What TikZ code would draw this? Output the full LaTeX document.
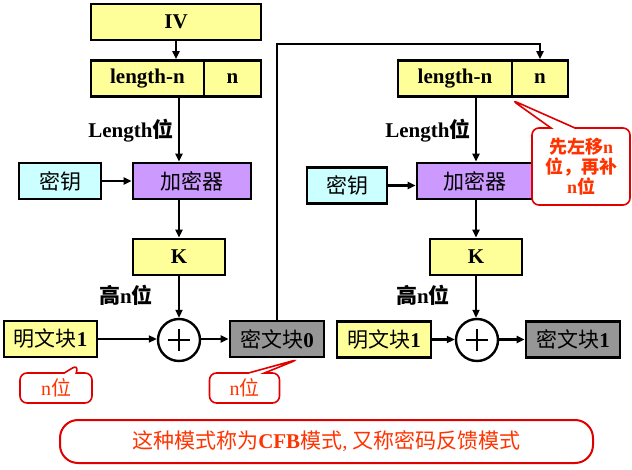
\documentclass[tikz,border=0pt]{standalone}
\usepackage{fontspec}
\setmainfont{Liberation Serif}
\newfontfamily\cjk{Noto Sans CJK SC}
\usetikzlibrary{arrows.meta,shapes.callouts,calc}
\definecolor{yel}{HTML}{FFFF99}
\definecolor{cyn}{HTML}{CCFFFF}
\definecolor{pur}{HTML}{CC99FF}
\definecolor{gry}{HTML}{969696}
\definecolor{rtxt}{HTML}{FF3300}
\definecolor{rline}{HTML}{E00000}
\newcommand\zhtxt[1]{{\cjk #1}}
\newcommand\zhbold[1]{{\cjk\bfseries #1}}
\begin{document}
\begin{tikzpicture}[x=1pt,y=-1pt,
  box/.style={draw=black,line width=2.8pt,minimum height=36pt,inner sep=0pt,
    font=\fontsize{21}{24}\selectfont},
  lbl/.style={inner sep=0pt,font=\fontsize{21}{24}\selectfont},
  arr/.style={line width=2.4pt,-{Triangle[length=8pt,width=7pt]}},
  xorc/.style={circle,draw=black,line width=2.4pt,minimum size=42pt,inner sep=0pt,
    path picture={\draw[line width=1.8pt] (path picture bounding box.center) ++(-11pt,0pt) -- ++(22pt,0pt);
                  \draw[line width=1.8pt] (path picture bounding box.center) ++(0pt,-11pt) -- ++(0pt,22pt);}},
  note/.style={rectangle callout,draw=rline,line width=1.6pt,rounded corners=7pt,fill=white,
    text=rtxt,inner sep=0pt},
]
\useasboundingbox (0,0) rectangle (632,470);

% ---------- left column ----------
\node[box,fill=yel,minimum width=170pt] (iv) at (176,22) {\bfseries IV};
\node[box,fill=yel,minimum width=113pt] (lenA) at (147.5,78.5) {\bfseries length-n};
\node[box,fill=yel,minimum width=57pt] (nA) at (232.5,78.5) {\bfseries n};
\node[lbl] (labA) at (131,131) {{\bfseries Length}\zhbold{位}};
\node[box,fill=cyn,minimum width=82pt] (keyA) at (60,181) {\zhtxt{密钥}};
\node[box,fill=pur,minimum width=118pt] (encA) at (192,181) {\zhtxt{加密器}};
\node[box,fill=yel,minimum width=92pt] (kA) at (179,257) {\bfseries K};
\node[lbl] (hiA) at (126,295) {\zhbold{高}{\bfseries n}\zhbold{位}};
\node[xorc] (xA) at (179,340) {};
\node[box,fill=yel,minimum width=93pt] (pA) at (50.5,339) {\zhtxt{明文块}{\bfseries 1}};
\node[box,fill=gry,minimum width=94pt] (cA) at (277,339) {\zhtxt{密文块}{\bfseries 0}};

% ---------- right column ----------
\node[box,fill=yel,minimum width=114pt] (lenB) at (455,78.5) {\bfseries length-n};
\node[box,fill=yel,minimum width=56pt] (nB) at (540,78.5) {\bfseries n};
\node[lbl] (labB) at (428,131) {{\bfseries Length}\zhbold{位}};
\node[box,fill=cyn,minimum width=80pt] (keyB) at (347,185.5) {\zhtxt{密钥}};
\node[box,fill=pur,minimum width=116pt] (encB) at (475,181) {\zhtxt{加密器}};
\node[box,fill=yel,minimum width=92pt] (kB) at (476,257) {\bfseries K};
\node[lbl] (hiB) at (423,295) {\zhbold{高}{\bfseries n}\zhbold{位}};
\node[xorc] (xB) at (477,340) {};
\node[box,fill=yel,minimum width=94pt] (pB) at (384,339.5) {\zhtxt{明文块}{\bfseries 1}};
\node[box,fill=gry,minimum width=94pt] (cB) at (573,339.5) {\zhtxt{密文块}{\bfseries 1}};

% ---------- connectors ----------
\draw[arr] (iv.south) -- (iv.south |- lenA.north);
\draw[arr] (lenA.south -| kA) -- (encA.north -| kA);
\draw[arr] (keyA.east) -- (encA.west);
\draw[arr] (encA.south -| kA) -- (kA.north);
\draw[arr] (kA.south) -- (xA.north);
\draw[arr] (pA.east) -- (pA.east -| xA.west);
\draw[arr] (cA.west -| xA.east) -- (cA.west);

\coordinate (fbtop) at (276,44);
\draw[arr] (cA.north) -- (cA.north |- fbtop) -| (nB.north);

\draw[arr] (lenB.south -| kB) -- (encB.north -| kB);
\draw[arr] (keyB.east) -- (keyB.east -| encB.west);
\draw[arr] (encB.south -| kB) -- (kB.north);
\draw[arr] (kB.south) -- (kB.south |- xB.north);
\draw[arr] (pB.east) -- (pB.east -| xB.west);
\draw[arr] (cB.west -| xB.east) -- (cB.west);

% ---------- notes ----------
\node[note,minimum width=98pt,minimum height=77pt,callout pointer width=24pt,
  callout absolute pointer={($(nB.south west)+(1,2)$)},
  font=\fontsize{18}{20}\selectfont,align=center] (shift) at (581,166.5)
  {\zhbold{先左移}{\bfseries n}\\\zhbold{位，再补}\\{\bfseries n}\zhbold{位}};
\node[note,minimum width=72pt,minimum height=30pt,callout pointer width=12pt,
  callout absolute pointer={($(pA.south east)+(-20,6)$)},
  font=\fontsize{20}{22}\selectfont] (nbA) at (56,388) {n\zhtxt{位}};
\node[note,minimum width=70pt,minimum height=30pt,callout pointer width=16pt,
  callout absolute pointer={($(cA.south)+(21,1)$)},
  font=\fontsize{20}{22}\selectfont] (nbB) at (244.5,388) {n\zhtxt{位}};

\node[draw=rline,line width=2pt,rounded corners=18pt,minimum width=533pt,minimum height=43pt,
  text=rtxt,inner sep=0pt,font=\fontsize{21}{24}\selectfont] (cfb) at (326.5,441.5)
  {\zhtxt{这种模式称为}{\bfseries CFB}\zhtxt{模式}, \zhtxt{又称密码反馈模式}};
\end{tikzpicture}
\end{document}
